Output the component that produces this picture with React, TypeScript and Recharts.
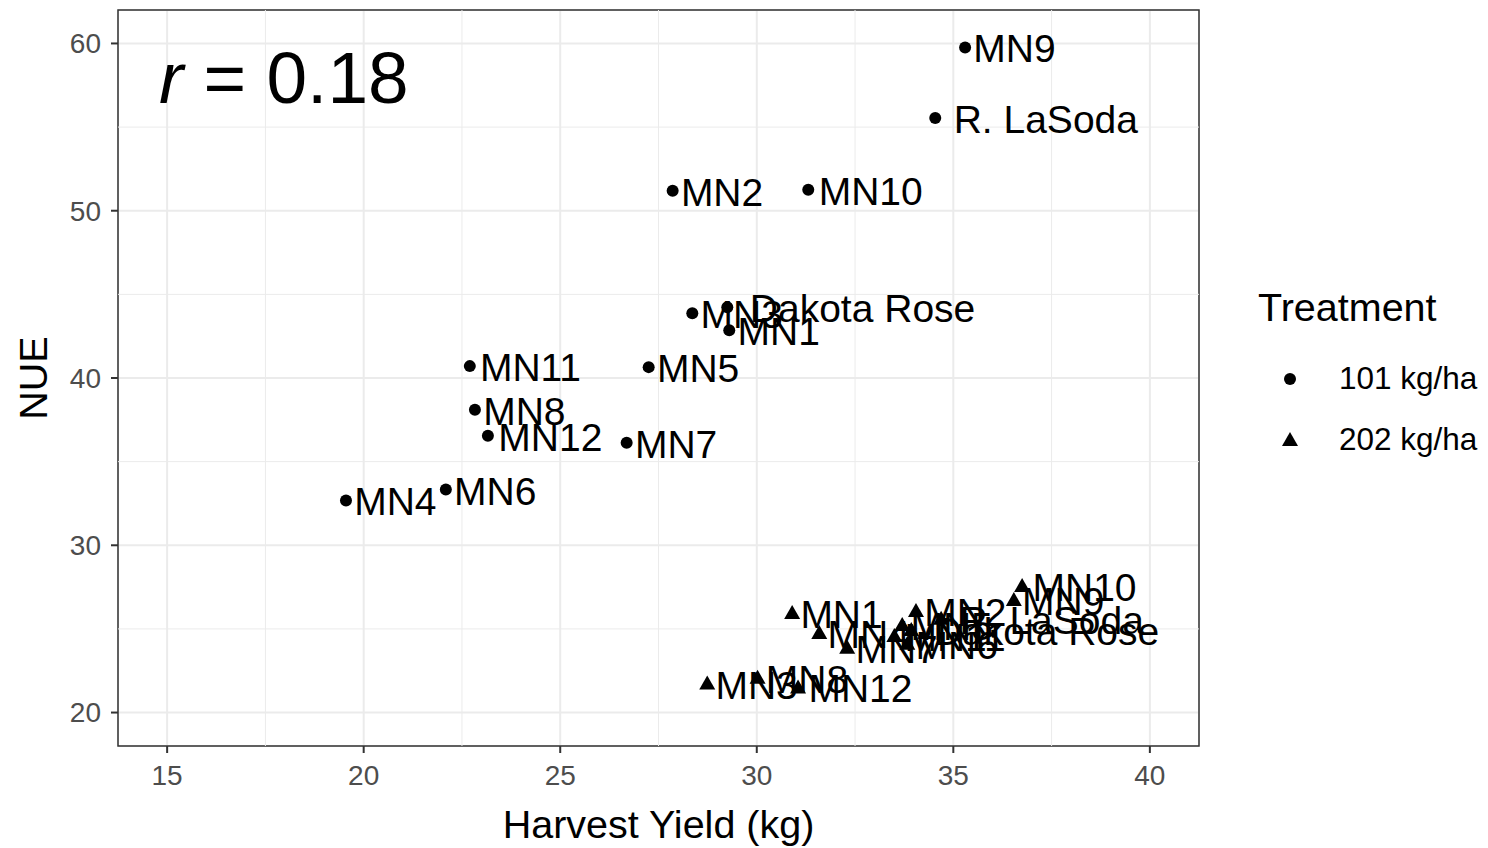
import {
  ScatterChart,
  Scatter,
  XAxis,
  YAxis,
  CartesianGrid,
  ReferenceLine,
  ReferenceArea,
} from 'recharts';

// Genotypes, harvest yield (kg) and NUE per nitrogen treatment
const genotypes = [
  'MN1', 'MN2', 'MN3', 'MN4', 'MN5', 'MN6', 'MN7',
  'MN8', 'MN9', 'MN10', 'MN11', 'MN12', 'Dakota Rose', 'R. LaSoda',
];
const yield101 = [29.3, 27.86, 28.36, 19.55, 27.25, 22.09, 26.69, 22.83, 35.3, 31.31, 22.7, 23.16, 29.25, 34.54];
const nue101 = [42.86, 51.19, 43.87, 32.68, 40.65, 33.33, 36.13, 38.1, 59.76, 51.25, 40.71, 36.55, 44.23, 55.54];
const yield202 = [30.9, 34.05, 28.74, 31.59, 33.7, 33.83, 32.3, 30.02, 36.54, 36.75, 33.5, 31.05, 33.93, 34.69];
const nue202 = [25.95, 26.07, 21.73, 24.75, 25.24, 24.11, 23.87, 22.08, 26.73, 27.56, 24.58, 21.5, 24.94, 25.6];

const treatments = ['101 kg/ha', '202 kg/ha'];
const correlation = 0.18;

const xTicks = [15, 20, 25, 30, 35, 40];
const yTicks = [20, 30, 40, 50, 60];
const xMinor = [17.5, 22.5, 27.5, 32.5, 37.5];
const yMinor = [25, 35, 45, 55];
const xDomain: [number, number] = [13.75, 41.25];
const yDomain: [number, number] = [18, 62];

const FONT = '"Liberation Sans", Arial, Helvetica, sans-serif';
const LABEL_SIZE = 39;

const low = genotypes.map((name, i) => ({ name, x: yield101[i], y: nue101[i] }));
const high = genotypes.map((name, i) => ({ name, x: yield202[i], y: nue202[i] }));

let measureCtx: CanvasRenderingContext2D | null = null;
function textWidth(s: string) {
  if (!measureCtx) {
    measureCtx = document.createElement('canvas').getContext('2d');
  }
  if (!measureCtx) return s.length * LABEL_SIZE * 0.6;
  measureCtx.font = `${LABEL_SIZE}px ${FONT}`;
  return measureCtx.measureText(s).width;
}

const DotShape = (props: any) => <circle cx={props.cx} cy={props.cy} r={6} fill="#000" />;

const TriangleShape = (props: any) => {
  const { cx, cy } = props;
  return <polygon points={`${cx},${cy - 8} ${cx - 8},${cy + 6} ${cx + 8},${cy + 6}`} fill="#000" />;
};

// text sits to the right of the point, nudged by a tenth of its own width
const NameShape = (props: any) => {
  const { cx, cy, payload } = props;
  const w = textWidth(payload.name);
  return (
    <text x={cx + 0.1 * w} y={cy + 15} fontSize={LABEL_SIZE} fontFamily={FONT} fill="#000">
      {payload.name}
    </text>
  );
};

export default function App() {
  return (
    <div style={{ position: 'absolute', left: 0, top: 0, width: 1488, height: 848, background: '#fff' }}>
      <ScatterChart width={1488} height={848} margin={{ top: 10, right: 289, bottom: 0, left: 0 }}>
        {xMinor.map((v) => (
          <ReferenceLine key={`mx${v}`} x={v} stroke="#EBEBEB" strokeWidth={1} />
        ))}
        {yMinor.map((v) => (
          <ReferenceLine key={`my${v}`} y={v} stroke="#EBEBEB" strokeWidth={1} />
        ))}
        <CartesianGrid stroke="#EBEBEB" strokeWidth={2} />
        <XAxis
          type="number"
          dataKey="x"
          domain={xDomain}
          ticks={xTicks}
          allowDataOverflow
          height={102}
          axisLine={false}
          tickSize={7}
          tickMargin={12}
          tickLine={{ stroke: '#333', strokeWidth: 2 }}
          tick={{ fill: '#4D4D4D', fontSize: 28, fontFamily: FONT }}
          label={{ value: 'Harvest Yield (kg)', position: 'insideBottom', offset: 10, fill: '#000', fontSize: 39.5, fontFamily: FONT }}
        />
        <YAxis
          type="number"
          dataKey="y"
          domain={yDomain}
          ticks={yTicks}
          allowDataOverflow
          width={118}
          axisLine={false}
          tickSize={7}
          tickMargin={10}
          tickLine={{ stroke: '#333', strokeWidth: 2 }}
          tick={{ fill: '#4D4D4D', fontSize: 28, fontFamily: FONT }}
          label={{ value: 'NUE', angle: -90, position: 'insideLeft', offset: 33, textAnchor: 'middle', fill: '#000', fontSize: 39.5, fontFamily: FONT }}
        />
        <ReferenceArea
          x1={xDomain[0]}
          x2={xDomain[1]}
          y1={yDomain[0]}
          y2={yDomain[1]}
          fill="none"
          fillOpacity={0}
          stroke="#333"
          strokeWidth={1.5}
          ifOverflow="visible"
        />
        <Scatter name={treatments[0]} data={low} shape={DotShape} isAnimationActive={false} />
        <Scatter name={treatments[1]} data={high} shape={TriangleShape} isAnimationActive={false} />
        <Scatter data={low} shape={NameShape} legendType="none" isAnimationActive={false} />
        <Scatter data={high} shape={NameShape} legendType="none" isAnimationActive={false} />
      </ScatterChart>

      <div
        style={{
          position: 'absolute',
          left: 159,
          top: 41,
          fontFamily: FONT,
          fontSize: 73,
          lineHeight: '73px',
          color: '#000',
          whiteSpace: 'nowrap',
        }}
      >
        <i>r</i> = {correlation.toFixed(2)}
      </div>

      <div style={{ position: 'absolute', left: 1258, top: 284, fontFamily: FONT, color: '#000' }}>
        <div style={{ fontSize: 39.5, lineHeight: '46px' }}>Treatment</div>
        {treatments.map((t, i) => (
          <div key={t} style={{ display: 'flex', alignItems: 'center', height: 61, marginTop: i === 0 ? 18 : 0 }}>
            <svg width={64} height={30} style={{ marginLeft: 17 }}>
              {i === 0 ? (
                <circle cx={15} cy={15} r={6} fill="#000" />
              ) : (
                <polygon points="15,7 7,21 23,21" fill="#000" />
              )}
            </svg>
            <span style={{ fontSize: 31.5 }}>{t}</span>
          </div>
        ))}
      </div>
    </div>
  );
}
